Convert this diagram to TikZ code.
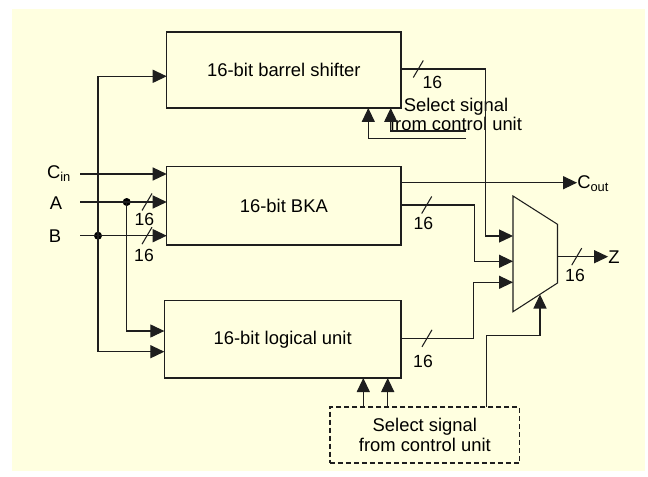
\documentclass[tikz,border=0pt]{standalone}
\usepackage{fontspec}
\setmainfont{Liberation Sans}
\usetikzlibrary{arrows.meta}

\definecolor{bgyellow}{RGB}{255,255,224}
\definecolor{wirecol}{RGB}{30,30,30}

\begin{document}
\begin{tikzpicture}[x=0.75pt,y=0.75pt,yscale=-1,xscale=1,
  wire/.style={draw=wirecol,line width=0.8pt},
  sig/.style={wire,-{Triangle[length=10.5pt,width=9.8pt]}},
  unit/.style={draw=wirecol,line width=0.8pt,inner sep=0pt,outer sep=0pt,font=\fontsize{13.8}{16}\selectfont},
  ctrl/.style={unit,dash pattern=on 3.8pt off 2.2pt,line width=1.1pt,align=center,font=\fontsize{13.8}{15}\selectfont},
  buswidth/.style={font=\fontsize{13.2}{14}\selectfont,inner sep=0pt},
  lbl/.style={font=\fontsize{13.8}{14.3}\selectfont,inner sep=0pt},
  dot/.style={circle,fill=black,inner sep=0pt,minimum size=6pt}]
\useasboundingbox (0,0) rectangle (648,477);

%Background
\fill [bgyellow] (12,9) rectangle (645,471);

%Shape: Rectangle [barrel shifter]
\node [unit, minimum width=175.7pt, minimum height=57pt] (bs) at (283.85,70) {16-bit barrel shifter};
%Shape: Rectangle [BKA]
\node [unit, minimum width=175.7pt, minimum height=58.7pt] (bka) at (283.85,205.85) {16-bit BKA};
%Shape: Rectangle [logical unit]
\node [unit, minimum width=177.5pt, minimum height=58pt] (lu) at (282.65,339.35) {16-bit logical unit};
%Shape: Rectangle [control unit, dashed]
\node [ctrl, minimum width=142.3pt, minimum height=42pt] (sel) at (424.85,435) {Select signal\\from control unit};

%Shape: Mux
\coordinate (mtl) at (513,196);
\coordinate (mtr) at (557.5,224.3);
\coordinate (mbr) at (557.5,283);
\coordinate (mbl) at (513,311.7);
\draw [wire] (mtl) -- (mtr) -- (mbr) -- (mbl) -- cycle ;
\coordinate (min1) at (513,236);
\coordinate (min2) at (513,261.3);
\coordinate (min3) at (513,282.3);
\coordinate (msel) at (540,294.5);
\coordinate (mout) at (557.5,256.7);

% Text Node
\node [lbl] (tcin) at (59,174) {C\textsubscript{in}};
% Text Node
\node [lbl] (ta) at (56,203) {A};
% Text Node
\node [lbl] (tb) at (55,236) {B};
% Text Node
\node [lbl, anchor=west] (tcout) at (577,184) {C\textsubscript{out}};
% Text Node
\node [lbl] (tz) at (614,257) {Z};
% Text Node
\node [lbl, align=center] (bssel) at (456,114) {Select signal\\from control unit};

%Inputs
\coordinate (cinL) at (80,174);
\coordinate (aL) at (80,202);
\coordinate (bL) at (80,235.7);
\node [dot] (da) at (126.7,202) {};
\node [dot] (db) at (98,235.7) {};
\draw [sig] (cinL) -- (cinL -| bka.west) ;
\draw [sig] (aL) -- (aL -| bka.west) ;
\draw [sig] (bL) -- (bL -| bka.west) ;
\draw [sig] (db.center) |- (bs.west |- 0,76.3) ;
\draw [sig] (db.center) |- (lu.west |- 0,351.7) ;
\draw [sig] (da.center) |- (lu.west |- 0,331) ;

%Outputs to mux
\draw [sig] (bs.east |- 0,69) -| (485.7,236) -- (min1) ;
\draw [sig] (bka.east |- 0,205) -| (474.3,261.3) -- (min2) ;
\draw [sig] (lu.east |- 0,338.3) -| (473.3,282.3) -- (min3) ;
\draw [sig] (bka.east |- 0,182.7) -- (tcout.west |- 0,182.7) ;
\draw [sig] (mout) -- (tz.west |- 0,256.7) ;

%Select lines
\coordinate (c1) at (466,138.3);
\coordinate (c2) at (466,131);
\draw [sig] (c1) -| (bs.south -| 368.3,0) ;
\draw [sig] (c2) -| (bs.south -| 390.7,0) ;
\draw [sig] (sel.north -| 363.3,0) -- (lu.south -| 363.3,0) ;
\draw [sig] (sel.north -| 387.7,0) -- (lu.south -| 387.7,0) ;
\draw [sig] (sel.north -| 486.7,0) |- (540,335.7) -- (msel) ;

%Straight Lines [bus width marks]
\draw [wire] (142,210.5) -- (152,193.5) ;
\draw [wire] (142,244.2) -- (152,227.2) ;
\draw [wire] (413.3,77.5) -- (423.3,60.5) ;
\draw [wire] (421.7,213.5) -- (431.7,196.5) ;
\draw [wire] (422,346.8) -- (432,329.8) ;
\draw [wire] (571.7,265.2) -- (581.7,248.2) ;

% Text Node
\node [buswidth] (w1) at (144.3,219.3) {16};
% Text Node
\node [buswidth] (w2) at (144,255) {16};
% Text Node
\node [buswidth] (w3) at (432.3,82) {16};
% Text Node
\node [buswidth] (w4) at (423.3,223.3) {16};
% Text Node
\node [buswidth] (w5) at (423,361.7) {16};
% Text Node
\node [buswidth] (w6) at (575,275) {16};

\end{tikzpicture}
\end{document}
